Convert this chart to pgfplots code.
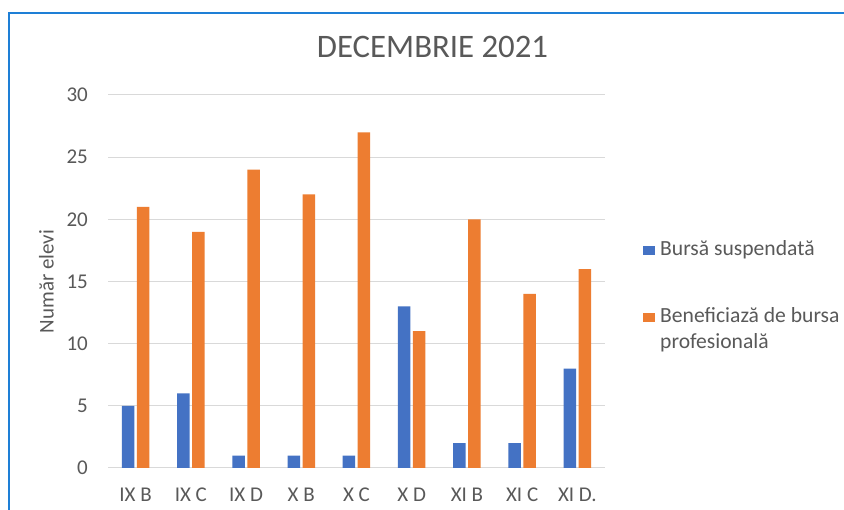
\documentclass[border=0pt]{standalone}
\usepackage{pgfplots}
\pgfplotsset{compat=1.18}
\usepackage{fontspec}
\setmainfont{Carlito}
\definecolor{xlblue}{HTML}{4472C4}
\definecolor{xlorange}{HTML}{ED7D31}
\definecolor{gridgray}{HTML}{D9D9D9}
\definecolor{txtgray}{HTML}{595959}
\definecolor{frameblue}{HTML}{1E7FD6}
\begin{document}
\begin{tikzpicture}[x=1pt,y=1pt]
\useasboundingbox (0,0) rectangle (844,510);
\fill[white] (0,0) rectangle (844,510);
\draw[frameblue, line width=2pt] (9,0) -- (9,497) -- (844,497);
\node[text=txtgray, font=\fontsize{32.8}{38}\selectfont, inner sep=0pt] at (432.5,463) {DECEMBRIE 2021};
\begin{axis}[
  at={(108pt,42pt)}, anchor=south west, scale only axis,
  width=497pt, height=373pt,
  ybar=2.5pt, bar width=12.5pt,
  xmin=-0.5, xmax=8.5, ymin=0, ymax=30,
  xtick={0,1,2,3,4,5,6,7,8},
  xticklabels={IX B, IX C, IX D, X B, X C, X D, XI B, XI C, XI D.},
  ytick={0,5,10,15,20,25,30},
  ymajorgrids, grid style={gridgray, line width=1pt},
  axis x line*=bottom, axis y line*=left,
  x axis line style={gridgray, line width=1pt, -},
  y axis line style={draw=none, -},
  major tick length=0pt,
  tick label style={text=txtgray, font=\fontsize{21}{25}\selectfont},
  /pgf/number format/assume math mode=true,
  yticklabel style={inner sep=0pt, xshift=-20pt, anchor=east},
  xticklabel style={inner sep=0pt, yshift=-20pt, anchor=north},
  ylabel={Număr elevi},
  every axis y label/.style={at={(axis description cs:-0.1237,0.5)}, rotate=90, anchor=center, text=txtgray, font=\fontsize{21}{25}\selectfont, inner sep=0pt},
  legend style={draw=none, fill=none, at={(1.0765,0.6247)}, anchor=north west,
    inner sep=0pt, row sep=0pt, column sep=5pt,
    nodes={inner sep=0pt, text depth=, anchor=base west},
    cells={anchor=base west},
    font=\fontsize{21.6}{25}\selectfont, text=txtgray},
]
\addplot[fill=xlblue, draw=none, legend image code/.code={\fill[xlblue] (0pt,0pt) rectangle (12pt,9.5pt);}]
  coordinates {(0,5) (1,6) (2,1) (3,1) (4,1) (5,13) (6,2) (7,2) (8,8)};
\addplot[fill=xlorange, draw=none, legend image code/.code={\fill[xlorange] (0pt,0pt) rectangle (12pt,9.5pt);}]
  coordinates {(0,21) (1,19) (2,24) (3,22) (4,27) (5,11) (6,20) (7,14) (8,16)};
\addlegendentry{Bursă suspendată\rule[-47pt]{0pt}{67pt}}
\addlegendentry{Beneficiază de bursa\rule[-6pt]{0pt}{26pt}}
\addlegendimage{empty legend}
\addlegendentry{profesională\rule[-6pt]{0pt}{26pt}}
\end{axis}
\end{tikzpicture}
\end{document}
